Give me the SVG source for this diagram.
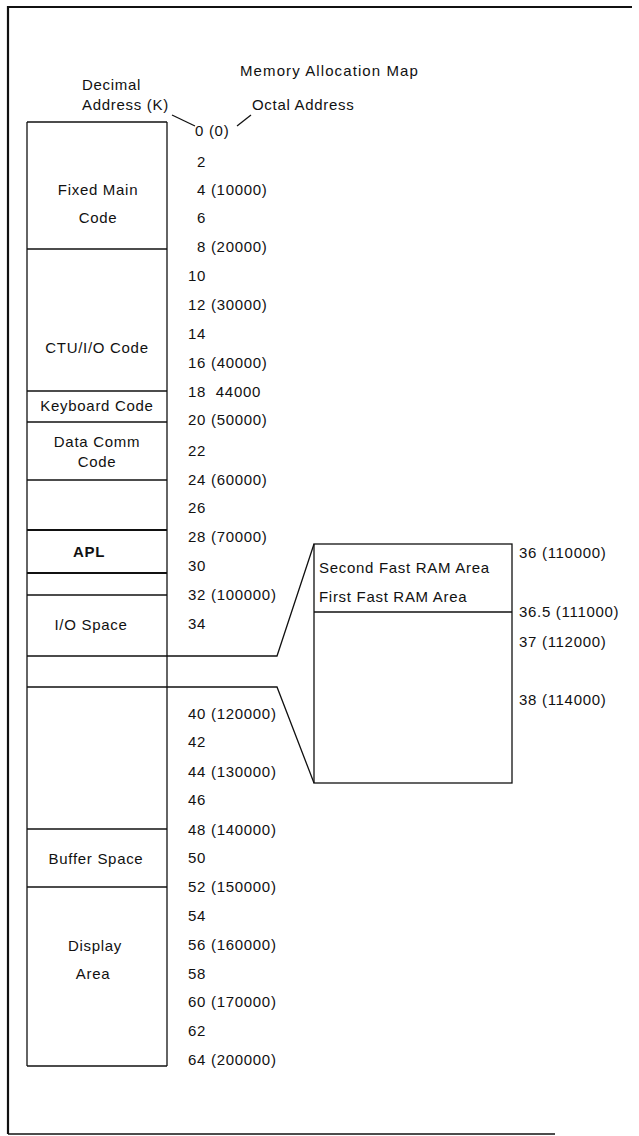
<svg xmlns="http://www.w3.org/2000/svg" width="639" height="1136" viewBox="0 0 639 1136">
<style>
text{font-family:"Liberation Sans",Arial,sans-serif;font-size:15px;fill:#111;letter-spacing:0.7px}
.c{text-anchor:middle}
.b{font-weight:bold}
.ln{stroke:#111;stroke-width:1.3;fill:none}
.bl{stroke:#111;stroke-width:2.2;fill:none}
</style>
<rect width="639" height="1136" fill="#fff"/>
<g id="frame">
<line class="ln" x1="8" y1="7" x2="632" y2="7" style="stroke-width:2"/>
<line class="ln" x1="8" y1="6" x2="8" y2="1134" style="stroke-width:2.2"/>
<line class="ln" x1="8" y1="1134" x2="555" y2="1134"/>
</g>
<g id="header">
<text x="240" y="76" style="letter-spacing:1.1px">Memory Allocation Map</text>
<text x="82" y="90">Decimal</text>
<text x="82" y="110">Address (K)</text>
<text x="252" y="110">Octal Address</text>
</g>
<g id="column">
<line class="ln" x1="27" y1="122" x2="27" y2="1066"/>
<line class="ln" x1="167" y1="122" x2="167" y2="1066"/>
<line class="ln" x1="27" y1="122" x2="167" y2="122"/>
<line class="ln" x1="27" y1="1066" x2="167" y2="1066"/>
</g>
<g id="fixed-main">
<line class="ln" x1="27" y1="249" x2="167" y2="249"/>
<text class="c" x="98" y="195">Fixed Main</text>
<text class="c" x="98" y="223">Code</text>
</g>
<g id="ctu-io">
<line class="ln" x1="27" y1="391" x2="167" y2="391"/>
<text class="c" x="97" y="353">CTU/I/O Code</text>
</g>
<g id="keyboard">
<line class="ln" x1="27" y1="422" x2="167" y2="422"/>
<text class="c" x="97" y="411">Keyboard Code</text>
</g>
<g id="data-comm">
<line class="ln" x1="27" y1="480" x2="167" y2="480"/>
<text class="c" x="97" y="447">Data Comm</text>
<text class="c" x="97" y="467">Code</text>
</g>
<g id="apl">
<line class="bl" x1="27" y1="530" x2="167" y2="530"/>
<line class="bl" x1="27" y1="573" x2="167" y2="573"/>
<text class="c b" x="89" y="557">APL</text>
</g>
<g id="blank-2">
<line class="ln" x1="27" y1="595" x2="167" y2="595"/>
</g>
<g id="io-space">
<text class="c" x="91" y="630">I/O Space</text>
</g>
<g id="fast-ram">
<rect class="ln" x="314" y="544" width="198" height="239"/>
<line class="ln" x1="314" y1="612" x2="512" y2="612"/>
<text x="319" y="573">Second Fast RAM Area</text>
<text x="319" y="602">First Fast RAM Area</text>
<text x="519" y="558">36 (110000)</text>
<text x="519" y="617">36.5 (111000)</text>
<text x="519" y="647">37 (112000)</text>
<text x="519" y="705">38 (114000)</text>
</g>
<g id="buffer">
<line class="ln" x1="27" y1="829" x2="167" y2="829"/>
<line class="ln" x1="27" y1="887" x2="167" y2="887"/>
<text class="c" x="96" y="864">Buffer Space</text>
</g>
<g id="display">
<text class="c" x="95" y="951">Display</text>
<text class="c" x="93" y="979">Area</text>
</g>
<g id="connectors">
<polyline class="ln" points="27,656 277,656 314,544"/>
<polyline class="ln" points="27,687 277,687 314,783"/>
<line class="ln" x1="172" y1="115" x2="195" y2="126"/>
<line class="ln" x1="237" y1="126" x2="251" y2="115"/>
</g>
<g id="addresses">
<text x="195" y="136">0 (0)</text>
<text x="197" y="167">2</text>
<text x="197" y="195">4 (10000)</text>
<text x="197" y="223">6</text>
<text x="197" y="252">8 (20000)</text>
<text x="188" y="281">10</text>
<text x="188" y="310">12 (30000)</text>
<text x="188" y="339">14</text>
<text x="188" y="368">16 (40000)</text>
<text x="188" y="397">18&#160; 44000</text>
<text x="188" y="425">20 (50000)</text>
<text x="188" y="456">22</text>
<text x="188" y="485">24 (60000)</text>
<text x="188" y="513">26</text>
<text x="188" y="542">28 (70000)</text>
<text x="188" y="571">30</text>
<text x="188" y="600">32 (100000)</text>
<text x="188" y="629">34</text>
<text x="188" y="719">40 (120000)</text>
<text x="188" y="747">42</text>
<text x="188" y="777">44 (130000)</text>
<text x="188" y="805">46</text>
<text x="188" y="835">48 (140000)</text>
<text x="188" y="863">50</text>
<text x="188" y="892">52 (150000)</text>
<text x="188" y="921">54</text>
<text x="188" y="950">56 (160000)</text>
<text x="188" y="979">58</text>
<text x="188" y="1007">60 (170000)</text>
<text x="188" y="1036">62</text>
<text x="188" y="1065">64 (200000)</text>
</g>
</svg>
